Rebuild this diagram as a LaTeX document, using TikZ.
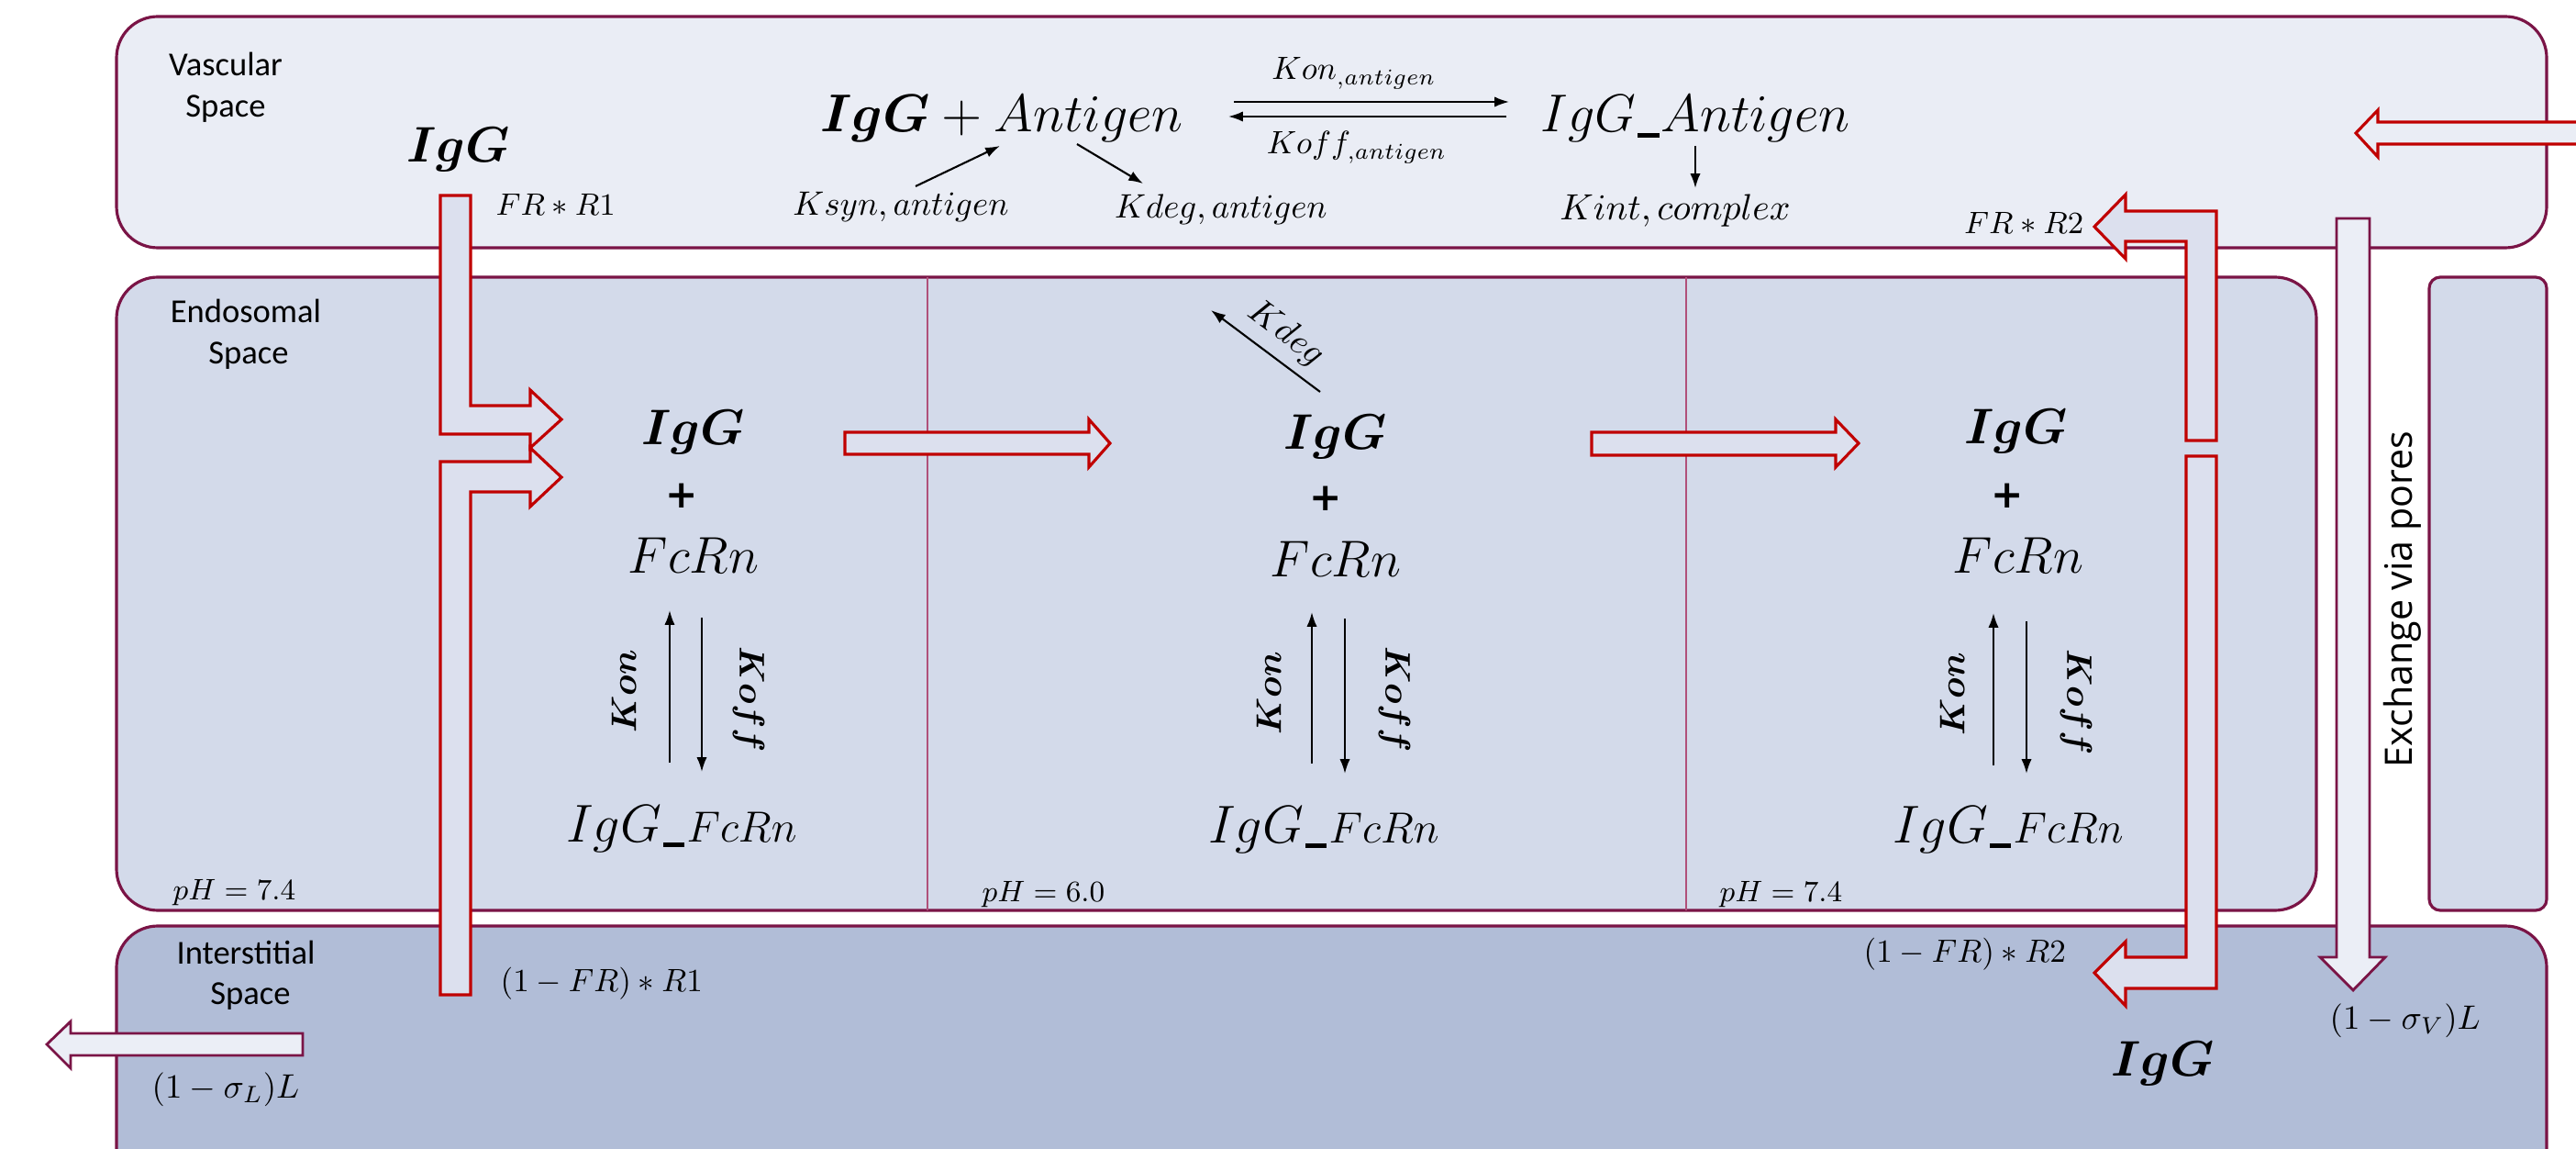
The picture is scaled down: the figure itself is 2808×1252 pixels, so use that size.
\RequirePackage{fix-cm}
\documentclass[tikz,border=0pt]{standalone}
\usepackage{amsmath}
\usepackage{fontspec}
\newfontfamily\calib{Carlito}
\newfontfamily\opens{Open Sans}
\newfontfamily\djv{DejaVu Sans}
\usetikzlibrary{arrows.meta}
\definecolor{vasc}{HTML}{EAEDF5}
\definecolor{endo}{HTML}{D3DAEA}
\definecolor{inter}{HTML}{B1BDD7}
\definecolor{bordc}{HTML}{7A1446}
\definecolor{redarr}{HTML}{C00000}
\definecolor{arrfill}{HTML}{DCE0EE}
\definecolor{pale}{HTML}{EBEEF6}
\definecolor{divc}{HTML}{B0507A}
\newcommand{\usc}{\kern0.6pt\rule[-1.8pt]{6.6pt}{1.5pt}\kern0.6pt}
\begin{document}
\begin{tikzpicture}[x=0.01cm,y=-0.01cm,
  box/.style={draw=bordc,line width=0.9pt,rounded corners=4.5mm},
  redarrow/.style={draw=redarr,line width=0.9pt,fill=arrfill},
  palearrow/.style={draw=bordc,line width=0.8pt,fill=pale},
  lbl/.style={inner sep=0pt,anchor=base},
  spacelbl/.style={lbl,font=\calib\fontsize{10.4}{12}\selectfont},
  bigb/.style={lbl,font=\fontsize{15.5}{18}\selectfont},
  bigm/.style={lbl,font=\fontsize{16.5}{20}\selectfont},
  fcrn/.style={lbl,font=\fontsize{16}{19}\selectfont},
  medm/.style={lbl,font=\fontsize{10.5}{12}\selectfont},
  smallm/.style={lbl,font=\fontsize{9.6}{11}\selectfont},
  phlbl/.style={lbl,anchor=base west,font=\fontsize{9.2}{11}\selectfont},
  ratelbl/.style={inner sep=0pt,font=\fontsize{11}{13}\selectfont},
  plus/.style={inner sep=0pt,font=\djv\fontsize{12}{14}\selectfont\bfseries},
  rx/.style={-{Latex[length=4.5pt,width=3.2pt]},line width=0.6pt},
]
\useasboundingbox (0,0) rectangle (2808,1252);
\clip (0,0) rectangle (2808,1252);
\fill[white] (0,0) rectangle (2808,1252);

% compartments
\draw[box,fill=vasc] (127,18) rectangle (2776,270);
\draw[box,fill=endo] (127,302) rectangle (2525,992);
\draw[box,fill=endo,rounded corners=1.2mm] (2648,302) rectangle (2776,992);
\draw[box,fill=inter] (127,1009) rectangle (2776,1330);
\draw[divc,line width=0.4pt] (1011,302) -- (1011,992);
\draw[divc,line width=0.4pt] (1838,302) -- (1838,992);

% block arrows
\draw[redarrow] (480,213) -- (513,213) -- (513,442) -- (578,442) -- (578,425) -- (612,457) -- (578,488) -- (578,473) -- (480,473) -- cycle;
\draw[redarrow] (480,1084) -- (480,503) -- (578,503) -- (578,488) -- (612,520) -- (578,552) -- (578,536) -- (513,536) -- (513,1084) -- cycle;
\draw[redarrow] (921,471) -- (1187,471) -- (1187,457) -- (1210,483) -- (1187,509) -- (1187,495) -- (921,495) -- cycle;
\draw[redarrow] (1735,471) -- (2001,471) -- (2001,457) -- (2026,483) -- (2001,509) -- (2001,496) -- (1735,496) -- cycle;
\draw[redarrow] (2383,480) -- (2383,263) -- (2317,263) -- (2317,282) -- (2283,247) -- (2317,212) -- (2317,230) -- (2416,230) -- (2416,480) -- cycle;
\draw[redarrow] (2383,497) -- (2416,497) -- (2416,1077) -- (2317,1077) -- (2317,1096) -- (2283,1060) -- (2317,1026) -- (2317,1043) -- (2383,1043) -- cycle;
\draw[redarrow,fill=vasc] (2840,133) -- (2592,133) -- (2592,120) -- (2568,145) -- (2592,171) -- (2592,157) -- (2840,157) -- cycle;
\draw[palearrow] (2547,238) -- (2583,238) -- (2583,1043) -- (2600,1043) -- (2565,1079) -- (2529,1043) -- (2547,1043) -- cycle;
\draw[palearrow] (330,1126) -- (77,1126) -- (77,1113) -- (51,1138) -- (77,1164) -- (77,1150) -- (330,1150) -- cycle;

% compartment labels
\node[spacelbl] (vas1) at (246,83) {Vascular};
\node[spacelbl] (vas2) at (246,128) {Space};
\node[spacelbl] (end1) at (268,352) {Endosomal};
\node[spacelbl] (end2) at (271,397) {Space};
\node[spacelbl] (int1) at (268,1050) {Interstitial};
\node[spacelbl] (int2) at (273,1094) {Space};
\node[inner sep=0pt,rotate=90,font=\opens\fontsize{11.7}{14}\selectfont] (exch) at (2619,653) {Exchange via pores};

% vascular space
\node[bigb] (iggv) at (500,177) {$\boldsymbol{IgG}$};
\node[smallm,anchor=base west] (fr1) at (540,235) {$FR*R1$};
\node[bigm] (iggag) at (1092,144) {$\boldsymbol{IgG}+Antigen$};
\node[bigm] (cplx) at (1848,144) {$IgG$\usc$Antigen$};
\node[lbl,font=\fontsize{10}{12}\selectfont] (konag) at (1476,87) {$Kon_{,antigen}$};
\node[lbl,font=\fontsize{10}{12}\selectfont] (koffag) at (1479,168) {$Koff_{,antigen}$};
\node[medm] (ksyn) at (982,235) {$Ksyn, antigen$};
\node[medm] (kdegag) at (1331,238) {$Kdeg, antigen$};
\node[lbl,font=\fontsize{11.3}{13}\selectfont] (kint) at (1826,240) {$Kint, complex$};
\node[smallm,anchor=base east] (fr2) at (2272,255) {$FR*R2$};

\coordinate (onA) at (1345,111); \coordinate (onB) at (1645,111);
\coordinate (offA) at (1642,127); \coordinate (offB) at (1339,127);
\coordinate (synA) at (998,203); \coordinate (synB) at (1090,159);
\coordinate (dgA) at (1174,157); \coordinate (dgB) at (1246,200);
\coordinate (intA) at (1848,159); \coordinate (intB) at (1848,205);
\draw[rx] (onA) -- (onB);
\draw[rx] (offA) -- (offB);
\draw[rx] (synA) -- (synB);
\draw[rx] (dgA) -- (dgB);
\draw[rx] (intA) -- (intB);

% endosome column 1
\node[bigb] (igg1) at (756,485) {$\boldsymbol{IgG}$};
\node[plus] (pl1) at (743,540) {+};
\node[fcrn] (fc1) at (756,625) {$FcRn$};
\node[bigm] (cx1) at (743,917) {$IgG$\usc{\fontsize{13.5}{15}\selectfont$FcRn$}};
\node[ratelbl,rotate=90] (kon1) at (680,753) {$\boldsymbol{Kon}$};
\node[ratelbl,rotate=-90] (koff1) at (816,762) {$\boldsymbol{Koff}$};
\coordinate (u1a) at (730,831); \coordinate (u1b) at (730,665);
\coordinate (d1a) at (765,673); \coordinate (d1b) at (765,841);
\draw[rx] (u1a) -- (u1b);
\draw[rx] (d1a) -- (d1b);
\node[phlbl] (ph1) at (188,980) {$pH=7.4$};

% endosome column 2
\node[bigb] (igg2) at (1456,490) {$\boldsymbol{IgG}$};
\node[plus] (pl2) at (1445,543) {+};
\node[fcrn] (fc2) at (1456,629) {$FcRn$};
\node[bigm] (cx2) at (1443,918) {$IgG$\usc{\fontsize{13.5}{15}\selectfont$FcRn$}};
\node[ratelbl,rotate=90] (kon2) at (1383,755) {$\boldsymbol{Kon}$};
\node[ratelbl,rotate=-90] (koff2) at (1520,762) {$\boldsymbol{Koff}$};
\coordinate (u2a) at (1430,832); \coordinate (u2b) at (1430,667);
\coordinate (d2a) at (1466,674); \coordinate (d2b) at (1466,843);
\draw[rx] (u2a) -- (u2b);
\draw[rx] (d2a) -- (d2b);
\coordinate (kdA) at (1439,427); \coordinate (kdB) at (1320,338);
\draw[rx] (kdA) -- (kdB);
\node[ratelbl,rotate=-37] (kdeg) at (1402,364) {$Kdeg$};
\node[phlbl] (ph2) at (1070,982) {$pH=6.0$};

% endosome column 3
\node[bigb] (igg3) at (2198,484) {$\boldsymbol{IgG}$};
\node[plus] (pl3) at (2188,540) {+};
\node[fcrn] (fc3) at (2200,625) {$FcRn$};
\node[bigm] (cx3) at (2189,918) {$IgG$\usc{\fontsize{13.5}{15}\selectfont$FcRn$}};
\node[ratelbl,rotate=90] (kon3) at (2128,756) {$\boldsymbol{Kon}$};
\node[ratelbl,rotate=-90] (koff3) at (2263,765) {$\boldsymbol{Koff}$};
\coordinate (u3a) at (2173,834); \coordinate (u3b) at (2173,668);
\coordinate (d3a) at (2209,677); \coordinate (d3b) at (2209,843);
\draw[rx] (u3a) -- (u3b);
\draw[rx] (d3a) -- (d3b);
\node[phlbl] (ph3) at (1874,982) {$pH=7.4$};

% interstitial
\node[medm,anchor=base west,font=\fontsize{10}{12}\selectfont] (r1) at (545,1080) {$(1-FR)*R1$};
\node[medm,anchor=base west,font=\fontsize{10}{12}\selectfont] (r2) at (2031,1048) {$(1-FR)*R2$};
\node[medm,anchor=base west] (sv) at (2539,1121) {$(1-\sigma_V)L$};
\node[medm,anchor=base west] (sl) at (165,1196) {$(1-\sigma_L)L$};
\node[bigb] (iggi) at (2358,1172) {$\boldsymbol{IgG}$};
\end{tikzpicture}
\end{document}
